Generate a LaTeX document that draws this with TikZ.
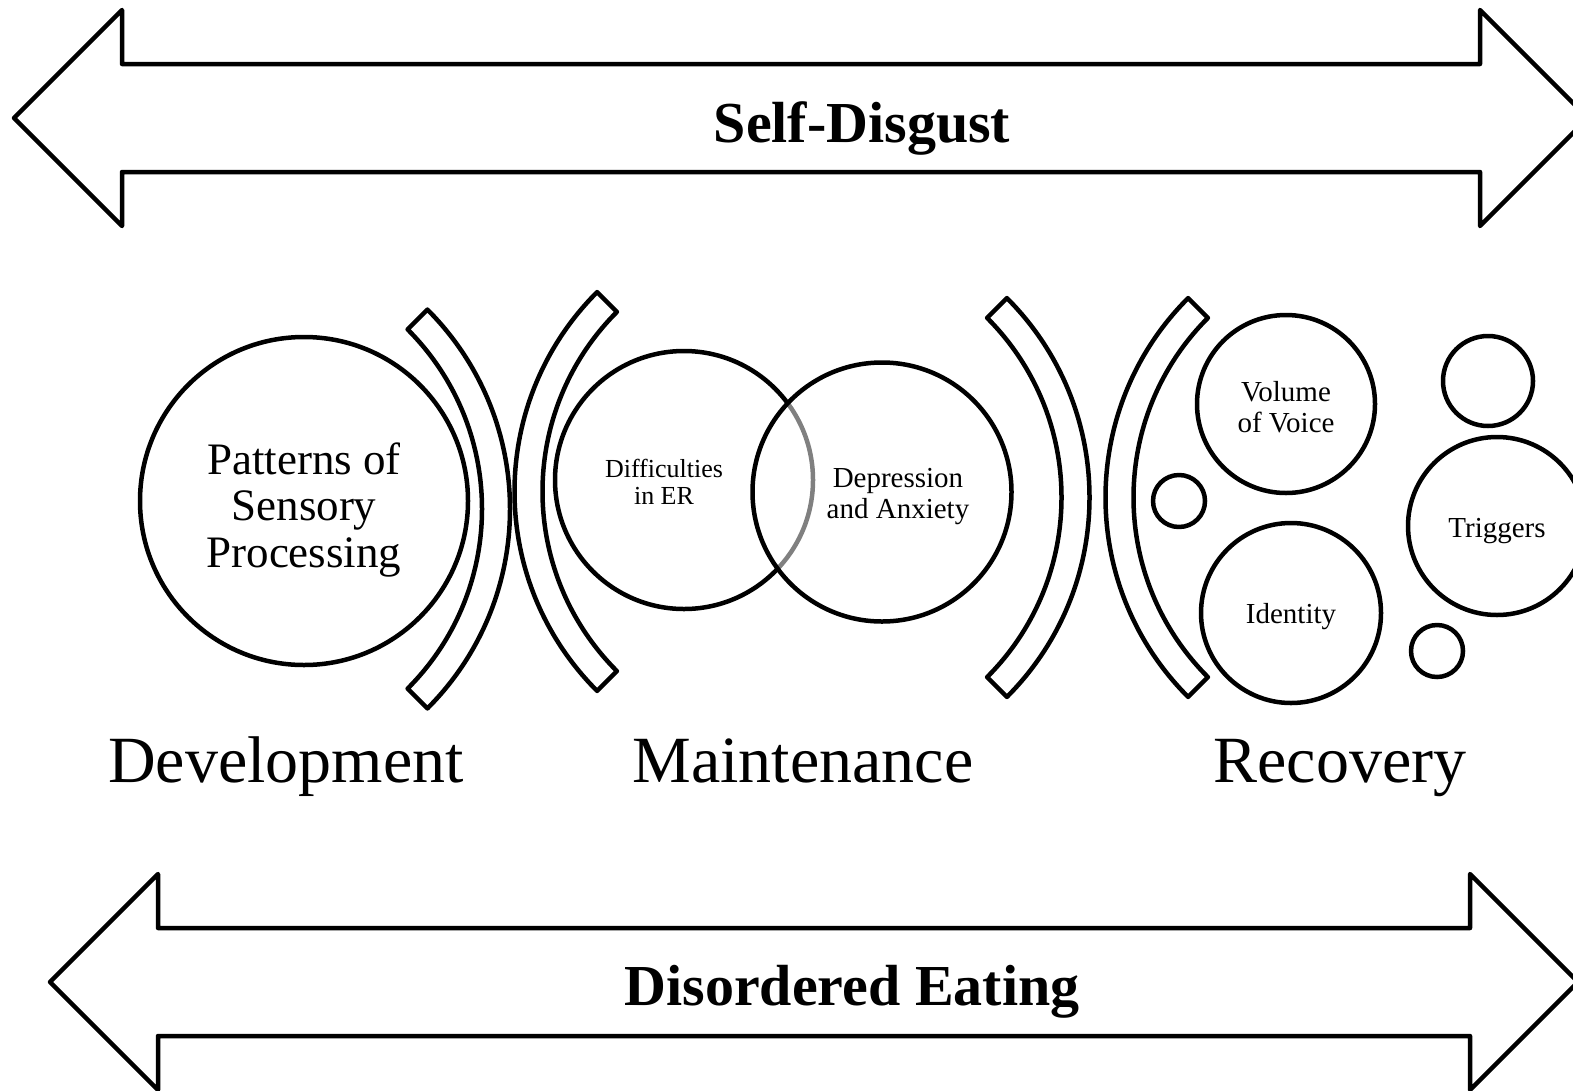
\documentclass[tikz,border=0pt]{standalone}
\usepackage{fontspec}
\setmainfont{Liberation Serif}

\tikzset{
    outline/.style={draw, line width=4.5pt, line join=round},
    bubble/.style={outline, circle, inner sep=0pt},
    stagetxt/.style={font=\fontsize{66}{70}\selectfont, anchor=base},
    bandtxt/.style={font=\fontsize{58}{62}\selectfont\bfseries},
    smalltxt/.style={font=\fontsize{29}{31}\selectfont, align=center}
}

\begin{document}
\begin{tikzpicture}[x=1pt, y=-1pt]
        \useasboundingbox (0,0) rectangle (1573,1090);
        \pgfmathsetmacro\rin{254};
        \pgfmathsetmacro\band{28};

        \draw[outline] (14,118) -- (122,10) -- (122,64) -- (1480,64)
            -- (1480,10) -- (1588,118) -- (1480,226) -- (1480,172)
            -- (122,172) -- (122,226) -- cycle;
        \node[bandtxt] (disgust) at (862,128) {Self-Disgust};

        \draw[outline] (50,982) -- (158,874) -- (158,928) -- (1470,928)
            -- (1470,874) -- (1578,982) -- (1470,1090) -- (1470,1036)
            -- (158,1036) -- (158,1090) -- cycle;
        \node[bandtxt] (eating) at (852,992) {Disordered Eating};

        \foreach \cx/\cy/\a in {228/509/0, 796.5/491.5/180,
            807.5/497.5/0, 1387.5/497.5/180}
        \draw[outline] (\cx,\cy) ++(\a-45:\rin)
            arc[start angle=\a-45, end angle=\a+45, radius=\rin]
            -- ++(\a+45:\band)
            arc[start angle=\a+45, end angle=\a-45, radius=\rin+\band]
            -- cycle;

        \node[bubble, minimum size=328] (pattern) at (304,501) {};
        \node[align=center, font=\fontsize{45}{46.5}\selectfont]
            (pattxt) at ([yshift=-9]pattern.center)
            {Patterns of\\Sensory\\Processing};

        \node[bubble, minimum size=258] (difficult) at (684,480) {};
        \node[smalltxt, font=\fontsize{26}{27}\selectfont]
            (difftxt) at ([xshift=-20,yshift=-2]difficult.center)
            {Difficulties\\in ER};
        \node[bubble, minimum size=259, fill=white, fill opacity=0.5,
            text opacity=1] (depress) at (882,492) {};
        \node[smalltxt] (deptxt) at ([xshift=16,yshift=-5]depress.center)
            {Depression\\and Anxiety};

        \node[bubble, minimum size=178] (volume) at (1286,404) {};
        \node[smalltxt] (voltxt) at ([yshift=-3]volume.center)
            {Volume\\of Voice};
        \node[bubble, minimum size=180] (identity) at (1291,613) {};
        \node[smalltxt] (idtxt) at ([yshift=-4]identity.center) {Identity};
        \node[bubble, minimum size=178] (triggers) at (1497,526) {};
        \node[smalltxt] (trigtxt) at ([yshift=-5]triggers.center) {Triggers};
        \foreach \nm/\x/\y/\d in {dotl/1179/501/52, dott/1488/381/90,
            dotb/1437/651/52}
        \node[bubble, minimum size=\d] (\nm) at (\x,\y) {};

        \node[stagetxt] (develop) at (286,782) {Development};
        \node[stagetxt] (maintain) at (803,782) {Maintenance};
        \node[stagetxt] (recover) at (1340,782) {Recovery};
    \end{tikzpicture}
\end{document}
